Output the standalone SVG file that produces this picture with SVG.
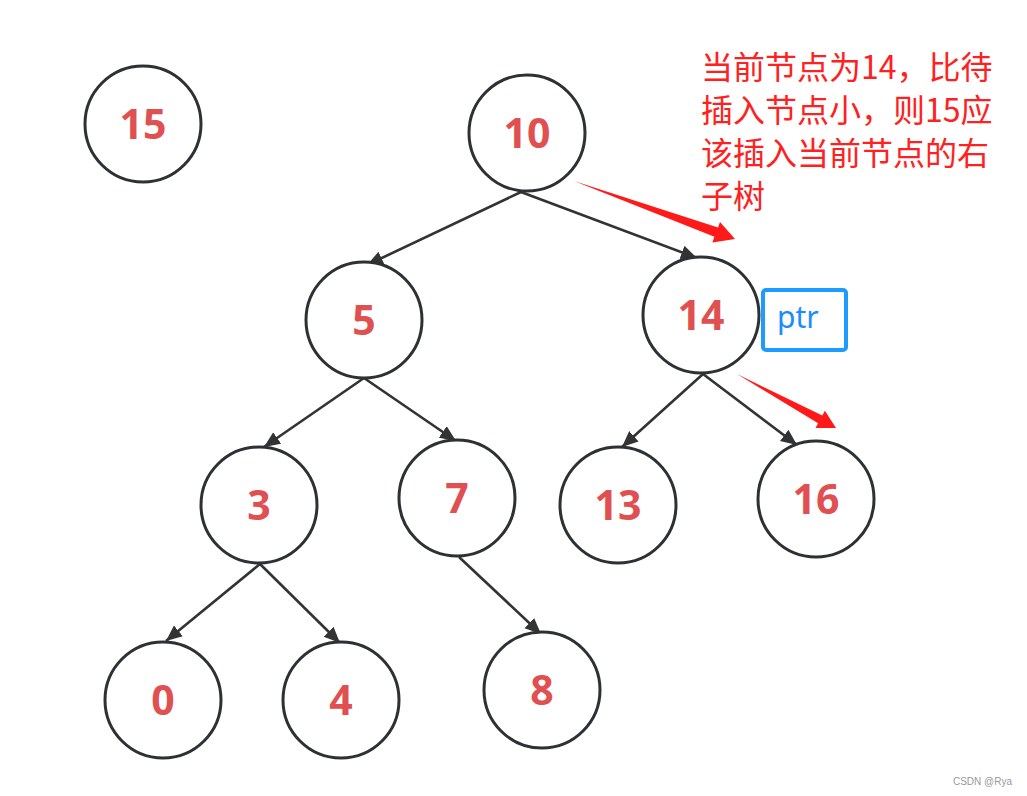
<svg xmlns="http://www.w3.org/2000/svg" width="1027" height="796" viewBox="0 0 1027 796">
<style>
.n circle{fill:#fff;stroke:#2d3035;stroke-width:3}
.n text{font-family:"Noto Sans","Open Sans",sans-serif;font-weight:bold;font-size:41px;fill:#e05050;text-anchor:middle}
.e line{stroke:#333;stroke-width:2.6;marker-end:url(#ah)}
.note{font-family:"Noto Sans CJK SC","Noto Sans",sans-serif;font-size:32px;fill:#ff2020}
</style>
<defs>
<marker id="ah" markerUnits="userSpaceOnUse" markerWidth="18" markerHeight="16" refX="16" refY="7" orient="auto">
<path d="M0,0 L16,7 L0,14 z" fill="#333"/>
</marker>
</defs>
<rect width="1027" height="796" fill="#fff"/>
<g id="connectors" class="e">
<line x1="521" y1="192" x2="367" y2="265"/>
<line x1="521" y1="192" x2="697" y2="258"/>
<line x1="364" y1="378" x2="264" y2="447"/>
<line x1="364" y1="378" x2="456" y2="441"/>
<line x1="703" y1="374" x2="622" y2="447"/>
<line x1="703" y1="374" x2="797" y2="445"/>
<line x1="260" y1="564" x2="166" y2="641"/>
<line x1="260" y1="564" x2="340" y2="643"/>
<line x1="459" y1="557" x2="541" y2="634"/>
</g>
<g id="n15" class="n"><circle cx="143" cy="124" r="58"/><text x="143" y="139">15</text></g>
<g id="n10" class="n"><circle cx="527" cy="133" r="58"/><text x="527" y="148">10</text></g>
<g id="n5" class="n"><circle cx="364" cy="320" r="58"/><text x="364" y="335">5</text></g>
<g id="n14" class="n"><circle cx="701" cy="315" r="58"/><text x="701" y="330">14</text></g>
<g id="n3" class="n"><circle cx="259" cy="505" r="58"/><text x="259" y="520">3</text></g>
<g id="n7" class="n"><circle cx="457" cy="498" r="58"/><text x="457" y="513">7</text></g>
<g id="n13" class="n"><circle cx="618" cy="505" r="58"/><text x="618" y="520">13</text></g>
<g id="n16" class="n"><circle cx="816" cy="499" r="58"/><text x="816" y="514">16</text></g>
<g id="n0" class="n"><circle cx="163" cy="700" r="58"/><text x="163" y="715">0</text></g>
<g id="n4" class="n"><circle cx="341" cy="700" r="58"/><text x="341" y="715">4</text></g>
<g id="n8" class="n"><circle cx="542" cy="690" r="58"/><text x="542" y="705">8</text></g>
<g id="ptr">
<rect x="763" y="290" width="83" height="60" rx="3" fill="none" stroke="#1e9bff" stroke-width="4"/>
<text x="777" y="328" font-family="Noto Sans, sans-serif" font-size="30" fill="#1a8cff">ptr</text>
</g>
<g id="red-arrows" fill="#ff1a1a">
<polygon points="574,181 718,227.6 720,222 735,239 712.4,242.4 714.4,236.8"/>
<polygon points="737,374 822.3,415.6 824.9,410.8 836,428 815.5,428 818.1,423.2"/>
</g>
<g id="note" class="note">
<text x="701" y="79">当前节点为14，比待</text>
<text x="701" y="122">插入节点小，则15应</text>
<text x="701" y="165">该插入当前节点的右</text>
<text x="701" y="208">子树</text>
</g>
<text x="1012" y="785" text-anchor="end" font-family="Liberation Sans, sans-serif" font-size="10" fill="#999">CSDN @Rya</text>
</svg>
